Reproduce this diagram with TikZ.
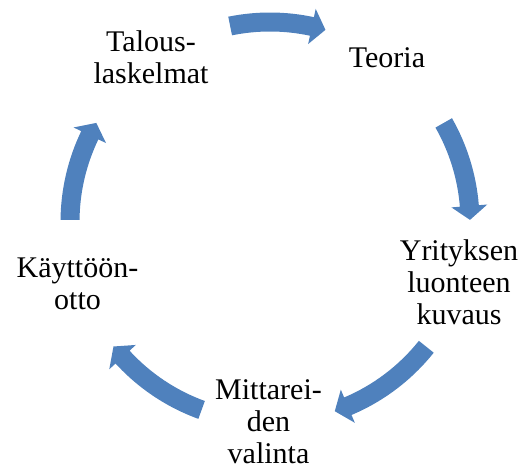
\documentclass[tikz,border=0pt]{standalone}
\usepackage{fontspec}
\setmainfont{Liberation Serif}
\definecolor{arrowblue}{HTML}{4F81BD}
\newcommand\cyclearrow[2]{%
  \fill[arrowfill] (#1:209.5) arc[start angle=#1, end angle={#2+4}, radius=209.5]
    -- ({#2+4}:218) -- (#2:200) -- ({#2+4}:182) -- ({#2+4}:190.5)
    arc[start angle={#2+4}, end angle=#1, radius=190.5] -- cycle;}
\begin{document}
\begin{tikzpicture}[x=0.75pt,y=0.75pt,
  arrowfill/.style={fill=arrowblue},
  label/.style={inner sep=0pt, align=center, font=\fontsize{22.5}{24}\selectfont}]
\useasboundingbox (0,0) rectangle (528,470);
\begin{scope}[shift={(270,248)}]
  \cyclearrow{101.5}{73.9}
  \cyclearrow{29.7}{0.6}
  \cyclearrow{-38.6}{-71.1}
  \cyclearrow{-110}{-141.5}
  \cyclearrow{179.4}{150.3}
\end{scope}
\node[label, anchor=base] (teoria) at (387,402) {Teoria};
\node[label] (yritys) at (459,188.2) {Yrityksen\\luonteen\\kuvaus};
\node[label] (mittari) at (268.5,48.2) {Mittarei-\\den\\valinta};
\node[label] (kaytto) at (77.5,186) {Käyttöön-\\otto};
\node[label] (talous) at (151,413.2) {Talous-\\laskelmat};
\end{tikzpicture}
\end{document}
